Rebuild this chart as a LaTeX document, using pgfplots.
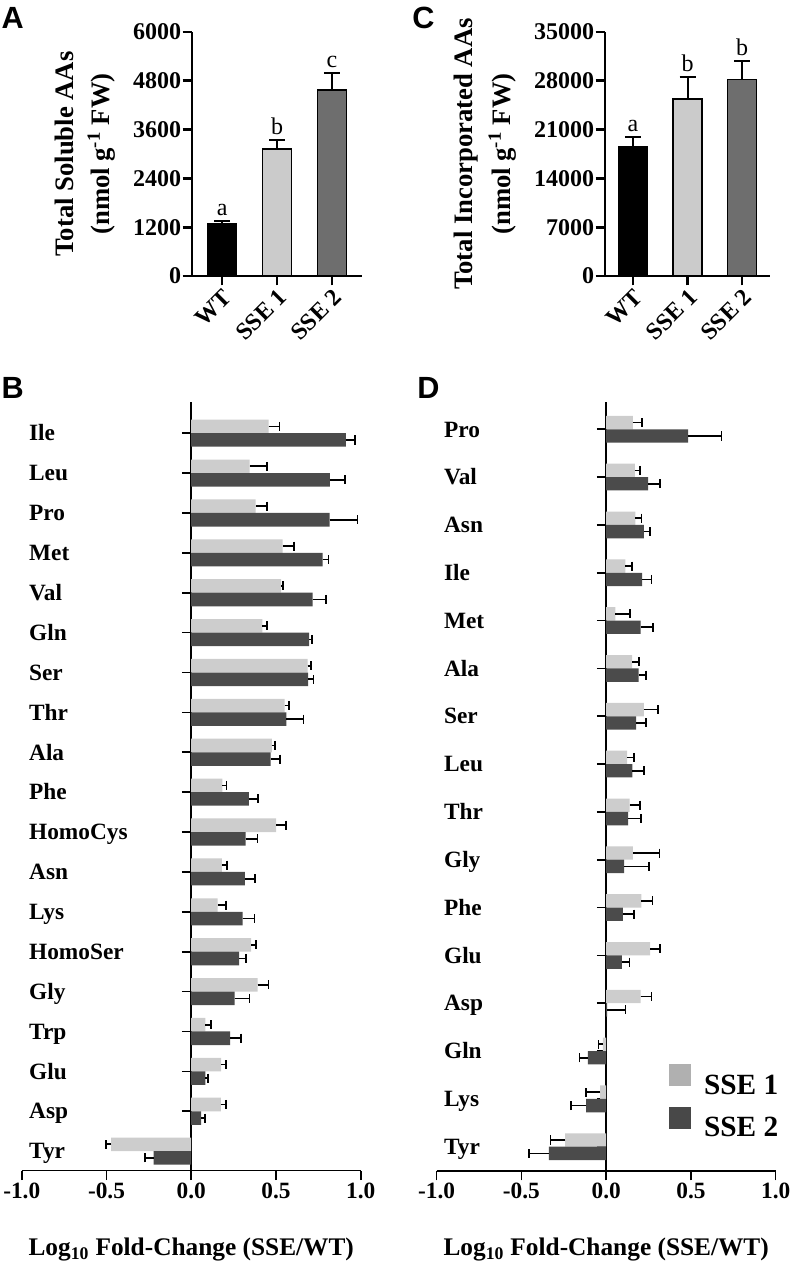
\documentclass[border=0pt]{standalone}
\usepackage{fontspec}
\setmainfont{Liberation Serif}
\newfontfamily\panelfont{Liberation Sans}
\usepackage{pgfplots}
\usepackage{pgfplotstable}
\pgfplotsset{compat=1.18}

\definecolor{aLight}{HTML}{CBCBCB}
\definecolor{aDark}{HTML}{6E6E6E}
\definecolor{bLight}{HTML}{CDCDCD}
\definecolor{bDark}{HTML}{4B4B4B}
\definecolor{legLight}{HTML}{B0B0B0}
\definecolor{legDark}{HTML}{484848}

\pgfplotstableread{
y s1 e1 s2 e2
18 0.456 0.065 0.912 0.056
17 0.344 0.104 0.818 0.091
16 0.380 0.066 0.816 0.165
15 0.539 0.069 0.775 0.035
14 0.531 0.010 0.716 0.080
13 0.419 0.027 0.696 0.016
12 0.686 0.020 0.690 0.032
11 0.551 0.025 0.562 0.101
10 0.476 0.018 0.468 0.057
9 0.183 0.025 0.340 0.055
8 0.501 0.059 0.321 0.070
7 0.181 0.031 0.317 0.059
6 0.155 0.051 0.303 0.071
5 0.354 0.026 0.283 0.040
4 0.391 0.065 0.256 0.088
3 0.083 0.033 0.230 0.065
2 0.177 0.026 0.083 0.017
1 0.175 0.028 0.059 0.024
0 -0.472 -0.033 -0.222 -0.051
}\dataB

\pgfplotstableread{
y s1 e1 s2 e2
15 0.157 0.053 0.484 0.196
14 0.169 0.032 0.248 0.069
13 0.173 0.035 0.222 0.038
12 0.114 0.037 0.212 0.055
11 0.055 0.087 0.203 0.072
10 0.153 0.040 0.191 0.045
9 0.222 0.085 0.177 0.059
8 0.124 0.039 0.155 0.067
7 0.138 0.063 0.130 0.076
6 0.157 0.158 0.106 0.146
5 0.208 0.065 0.098 0.065
4 0.260 0.057 0.092 0.046
3 0.203 0.064 0.005 0.109
2 -0.020 -0.025 -0.108 -0.049
1 -0.035 -0.083 -0.118 -0.088
0 -0.242 -0.086 -0.338 -0.118
}\dataD

\pgfplotsset{
  topaxis/.style={
    scale only axis, anchor=south west,
    axis x line*=bottom, axis y line*=left,
    axis line style={line width=2pt,-},
    ybar, bar shift=0pt, bar width=0.53,
    xtick={0,1,2}, xticklabels={WT,SSE 1,SSE 2},
    ymin=0, scaled y ticks=false,
    tick align=outside, major tick length=7pt,
    major tick style={line width=2pt,black},
    /pgf/number format/assume math mode=true,
    /pgf/number format/1000 sep={},
    tick label style={font=\bfseries\fontsize{18}{18}\selectfont},
    yticklabel style={inner sep=1pt},
    xticklabel style={rotate=45, anchor=north east, inner sep=1pt},
    ylabel style={font=\bfseries\fontsize{20}{27}\selectfont, align=center, anchor=south, inner sep=0pt},
    error bars/y dir=plus, error bars/y explicit,
    error bars/error bar style={line width=1.5pt, black},
    error bars/error mark options={rotate=90, line width=1.5pt, mark size=6pt, black},
  },
  botaxis/.style={
    scale only axis, anchor=south west,
    width=254.25pt,
    xmin=-1, xmax=1,
    axis x line=bottom, axis y line=middle,
    hide obscured x ticks=false, hide obscured y ticks=false,
    axis line style={line width=1.2pt,-},
    xbar,
    xtick={-1,-0.5,0,0.5,1},
    tick align=outside, major tick length=7pt,
    major tick style={line width=1.2pt,black},
    /pgf/number format/assume math mode=true,
    /pgf/number format/fixed, /pgf/number format/fixed zerofill,
    /pgf/number format/precision=1,
    tick label style={font=\bfseries\fontsize{17.5}{17.5}\selectfont},
    xticklabel style={inner sep=2pt},
    yticklabel style={anchor=base west, inner sep=0pt, xshift=-114.75pt, yshift=-5.8pt},
    xlabel={Log\textsubscript{10} Fold-Change (SSE/WT)},
    xlabel style={font=\bfseries\fontsize{19}{19}\selectfont, at={(axis description cs:0.5,-0.087)}, anchor=north, inner sep=0pt},
    error bars/x dir=plus, error bars/x explicit,
    error bars/error bar style={line width=1.3pt, black},
    error bars/error mark options={rotate=90, line width=1.3pt, mark size=3.4pt, black, draw=black},
  }
}

\begin{document}
\begin{tikzpicture}
\useasboundingbox (0,0) rectangle (594.75pt,-948.75pt);

% Panel A
\begin{axis}[topaxis,
  at={(144pt,-207pt)}, width=127.5pt, height=183pt,
  xmin=-0.55, xmax=2.55, ymax=6000,
  ytick={0,1200,2400,3600,4800,6000},
  ylabel={Total Soluble AAs\\(nmol g\textsuperscript{-1} FW)},
  ylabel style={at={(axis description cs:-0.447,0.5)}},
]
\addplot[fill=black, draw=black, line width=1.1pt] coordinates {(0,1280) +- (0,80)};
\addplot[fill=aLight, draw=black, line width=1.1pt] coordinates {(1,3120) +- (0,224)};
\addplot[fill=aDark, draw=black, line width=1.1pt] coordinates {(2,4574) +- (0,410)};
\node[font=\fontsize{18}{18}\selectfont, anchor=base, yshift=4pt] at (axis cs:0,1360) {a};
\node[font=\fontsize{18}{18}\selectfont, anchor=base, yshift=4pt] at (axis cs:1,3344) {b};
\node[font=\fontsize{18}{18}\selectfont, anchor=base, yshift=4pt] at (axis cs:2,4984) {c};
\end{axis}

% Panel C
\begin{axis}[topaxis,
  at={(453.75pt,-207pt)}, width=123.75pt, height=183pt,
  xmin=-0.51, xmax=2.51, ymax=35000,
  ytick={0,7000,14000,21000,28000,35000},
  ylabel={Total Incorporated AAs\\(nmol g\textsuperscript{-1} FW)},
  ylabel style={at={(axis description cs:-0.533,0.5)}, font=\bfseries\fontsize{20}{29}\selectfont},
]
\addplot[fill=black, draw=black, line width=1.1pt] coordinates {(0,18550) +- (0,1435)};
\addplot[fill=aLight, draw=black, line width=1.1pt] coordinates {(1,25390) +- (0,3110)};
\addplot[fill=aDark, draw=black, line width=1.1pt] coordinates {(2,28210) +- (0,2630)};
\node[font=\fontsize{18}{18}\selectfont, anchor=base, yshift=4pt] at (axis cs:0,19985) {a};
\node[font=\fontsize{18}{18}\selectfont, anchor=base, yshift=4pt] at (axis cs:1,28500) {b};
\node[font=\fontsize{18}{18}\selectfont, anchor=base, yshift=4pt] at (axis cs:2,30840) {b};
\end{axis}

% Panel B
\begin{axis}[botaxis,
  at={(16.3pt,-878pt)}, height=576.75pt,
  ymin=-0.49, ymax=18.79, bar width=0.34,
  ytick={0,...,18},
  yticklabels={Tyr,Asp,Glu,Trp,Gly,HomoSer,Lys,Asn,HomoCys,Phe,Ala,Thr,Ser,Gln,Val,Met,Pro,Leu,Ile},
]
\addplot[fill=bLight, draw=none, bar shift=0.17] table[x=s1, y=y, x error=e1] {\dataB};
\addplot[fill=bDark, draw=none, bar shift=-0.17] table[x=s2, y=y, x error=e2] {\dataB};
\end{axis}

% Panel D
\begin{axis}[botaxis,
  at={(327.5pt,-878.25pt)}, height=577pt,
  ymin=-0.508, ymax=15.577, bar width=0.28,
  ytick={0,...,15},
  yticklabels={Tyr,Lys,Gln,Asp,Glu,Phe,Gly,Thr,Leu,Ser,Ala,Met,Ile,Asn,Val,Pro},
  legend style={at={(axis description cs:0.685,0.139)}, anchor=north west, draw=none, fill=none,
    inner sep=0pt, row sep=6pt, column sep=8pt, font=\bfseries\fontsize{22}{22}\selectfont},
  legend cell align=left,
]
\addlegendimage{legend image code/.code={\fill[legLight] (0pt,0pt) rectangle (15.75pt,15.75pt);}}
\addlegendentry{SSE 1}
\addlegendimage{legend image code/.code={\fill[legDark] (0pt,0pt) rectangle (15.75pt,15.75pt);}}
\addlegendentry{SSE 2}
\addplot[fill=bLight, draw=none, bar shift=0.14, forget plot] table[x=s1, y=y, x error=e1] {\dataD};
\addplot[fill=bDark, draw=none, bar shift=-0.14, forget plot] table[x=s2, y=y, x error=e2] {\dataD};
\end{axis}

\node[anchor=north west, inner sep=0pt, font=\panelfont\bfseries\fontsize{23}{23}\selectfont] at (1pt,-5pt) {A};
\node[anchor=north west, inner sep=0pt, font=\panelfont\bfseries\fontsize{23}{23}\selectfont] at (309pt,-5pt) {C};
\node[anchor=north west, inner sep=0pt, font=\panelfont\bfseries\fontsize{23}{23}\selectfont] at (1pt,-282.75pt) {B};
\node[anchor=north west, inner sep=0pt, font=\panelfont\bfseries\fontsize{23}{23}\selectfont] at (312.75pt,-282.75pt) {D};
\end{tikzpicture}
\end{document}
